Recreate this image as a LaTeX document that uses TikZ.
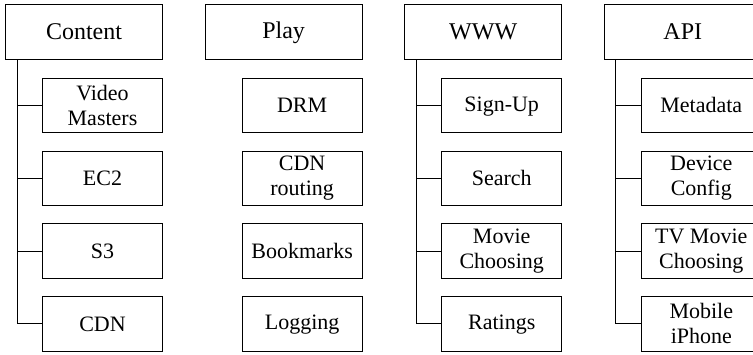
\documentclass[tikz,border=0pt]{standalone}
\usepackage{fontspec}
\setmainfont{Liberation Serif}
\usetikzlibrary{positioning}
\newcommand\headstrut{\rule[-1.5pt]{0pt}{19pt}}
\newcommand\itemstrut{\rule[-1.4pt]{0pt}{17.4pt}}

\begin{document}
\begin{tikzpicture}[
  x=1pt,y=1pt,
  head/.style={draw,line width=0.9pt,minimum width=157pt,minimum height=55pt,align=center,font=\fontsize{24}{27}\selectfont,
    execute at begin node=\headstrut},
  item/.style={draw,line width=0.9pt,minimum width=120pt,minimum height=54.5pt,inner sep=2pt,align=center,font=\fontsize{22}{25}\selectfont,
    execute at begin node=\itemstrut,execute at end node=\itemstrut},
  link/.style={line width=0.9pt}
]
  \clip (0,0) rectangle (753,354);

  % top row
  \node[head] (content) at (84,322) {Content};
  \node[head,right=41.7pt of content] (play) {Play};
  \node[head,right=41.7pt of play] (www) {WWW};
  \node[head,right=41.7pt of www] (api) {API};

  % content column
  \node[item,below left=18pt and 0pt of content.south east] (masters) {Video\\Masters};
  \node[item,below=17.3pt of masters] (ec2) {EC2};
  \node[item,below=17.3pt of ec2] (s3) {S3};
  \node[item,below=17.3pt of s3] (cdn) {CDN};

  % play column
  \node[item,below left=18pt and 0pt of play.south east] (drm) {DRM};
  \node[item,below=17.3pt of drm] (routing) {CDN\\routing};
  \node[item,below=17.3pt of routing] (bookmarks) {Bookmarks};
  \node[item,below=17.3pt of bookmarks] (logging) {Logging};

  % www column
  \node[item,below left=18pt and 0pt of www.south east] (signup) {Sign-Up};
  \node[item,below=17.3pt of signup] (search) {Search};
  \node[item,below=17.3pt of search] (choosing) {Movie\\Choosing};
  \node[item,below=17.3pt of choosing] (ratings) {Ratings};

  % api column
  \node[item,below left=18pt and 0pt of api.south east] (metadata) {Metadata};
  \node[item,below=17.3pt of metadata] (device) {Device\\Config};
  \node[item,below=17.3pt of device] (tvmovie) {TV Movie\\Choosing};
  \node[item,below=17.3pt of tvmovie] (mobile) {Mobile\\iPhone};

  % trunks
  \coordinate (contentT) at ([xshift=12pt]content.south west);
  \coordinate (wwwT) at ([xshift=12pt]www.south west);
  \coordinate (apiT) at ([xshift=12pt]api.south west);
  \foreach \c in {masters,ec2,s3,cdn}
    \draw[link] (contentT) |- (\c.west);
  \foreach \c in {signup,search,choosing,ratings}
    \draw[link] (wwwT) |- (\c.west);
  \foreach \c in {metadata,device,tvmovie,mobile}
    \draw[link] (apiT) |- (\c.west);
\end{tikzpicture}
\end{document}
